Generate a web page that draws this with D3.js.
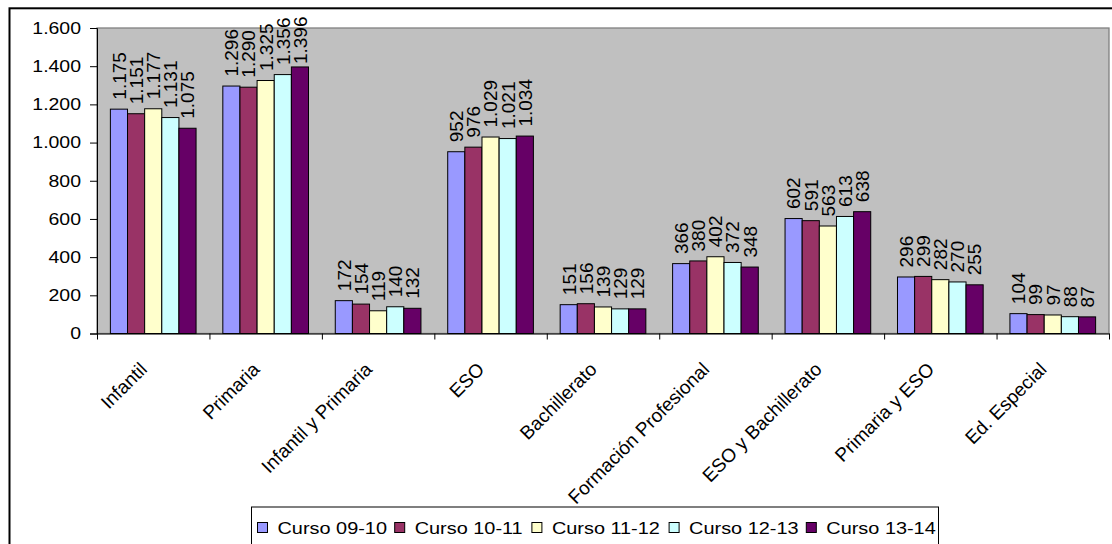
<!DOCTYPE html>
<html>
<head>
<meta charset="utf-8">
<script src="https://cdn.jsdelivr.net/npm/d3@7"></script>
<style>
  body { margin: 0; background: #fff; }
  text { font-family: "Liberation Sans", Arial, sans-serif; fill: #000; }
</style>
</head>
<body>
<script>
// data
const categories = ["Infantil", "Primaria", "Infantil y Primaria", "ESO", "Bachillerato",
  "Formación Profesional", "ESO y Bachillerato", "Primaria y ESO", "Ed. Especial"];
const seriesNames = ["Curso 09-10", "Curso 10-11", "Curso 11-12", "Curso 12-13", "Curso 13-14"];
const curso0910 = [1175, 1296, 172, 952, 151, 366, 602, 296, 104];
const curso1011 = [1151, 1290, 154, 976, 156, 380, 591, 299, 99];
const curso1112 = [1177, 1325, 119, 1029, 139, 402, 563, 282, 97];
const curso1213 = [1131, 1356, 140, 1021, 129, 372, 613, 270, 88];
const curso1314 = [1075, 1396, 132, 1034, 129, 348, 638, 255, 87];
const yTicks = [0, 200, 400, 600, 800, 1000, 1200, 1400, 1600];
const colors = ["#9999FF", "#993366", "#FFFFCC", "#CCFFFF", "#660066"];

const seriesValues = [curso0910, curso1011, curso1112, curso1213, curso1314];
const rows = categories.map((c, i) => ({
  cat: c,
  vals: seriesNames.map((s, j) => ({ s: s, v: seriesValues[j][i], c: colors[j] }))
}));

const fmt = d3.formatLocale({ decimal: ",", thousands: ".", grouping: [3], currency: ["", "€"] }).format(",d");

let margin = { top: 28, left: 97, right: 3, bottom: 210.5 };
let totalW = 1112, totalH = 544;
let width = totalW - margin.left - margin.right;
let height = totalH - margin.top - margin.bottom;

const root = d3.select("body").append("svg")
  .attr("width", totalW)
  .attr("height", totalH);

// outer chart border (runs off the right and bottom edges)
root.append("rect")
  .attr("x", 9.5).attr("y", 8.3)
  .attr("width", 1300).attr("height", 700)
  .attr("fill", "none").attr("stroke", "#000").attr("stroke-width", 2);

const svg = root.append("g").attr("transform", `translate(${margin.left}, ${margin.top})`);

// plot area
svg.append("rect")
  .attr("x", 0).attr("y", 0)
  .attr("width", width).attr("height", height)
  .attr("fill", "#C0C0C0").attr("stroke", "#808080").attr("stroke-width", 1.3);

const y = d3.scaleLinear().domain([0, 1600]).range([height, 0]);
const x0 = d3.scaleBand().domain(categories).range([0, width]).padding(0);
const bw = x0.bandwidth();
const x1 = d3.scaleBand().domain(seriesNames).range([bw * 0.119, bw * 0.881]).padding(0);

// bars
const groups = svg.selectAll(".cat").data(rows).enter().append("g")
  .attr("transform", d => `translate(${x0(d.cat)},0)`);

groups.selectAll("rect").data(d => d.vals).enter().append("rect")
  .attr("x", d => x1(d.s))
  .attr("y", d => y(d.v))
  .attr("width", x1.bandwidth())
  .attr("height", d => height - y(d.v))
  .attr("fill", d => d.c)
  .attr("stroke", "#000")
  .attr("stroke-width", 1);

// value labels, rotated; kept inside the chart at the top
groups.selectAll("text.val").data(d => d.vals).enter().append("text")
  .attr("class", "val")
  .style("font-size", "19px")
  .attr("text-anchor", "start")
  .attr("dy", "0.36em")
  .text(d => fmt(d.v))
  .each(function(d) {
    const len = this.getComputedTextLength();
    let start = y(d.v) - 9.5;
    const minTop = 16.5 - margin.top;
    if (start - len < minTop) start = minTop + len;
    const cx = x1(d.s) + x1.bandwidth() / 2;
    d3.select(this).attr("transform", `translate(${cx},${start}) rotate(-90)`);
  });

// y axis
const yAxis = svg.append("g")
  .call(d3.axisLeft(y).tickValues(yTicks).tickFormat(fmt).tickSize(7).tickPadding(0));
yAxis.select(".domain").attr("stroke", "#000");
yAxis.selectAll(".tick line").attr("stroke", "#000");
yAxis.selectAll(".tick text")
  .style("font-size", "16.5px")
  .attr("font-family", null)
  .attr("x", -16 / 1.18)
  .attr("transform", "scale(1.18,1)");

// x axis: line and boundary ticks
const xb = d3.scaleLinear().domain([0, categories.length]).range([0, width]);
const xAxis = svg.append("g")
  .attr("transform", `translate(0, ${height})`)
  .call(d3.axisBottom(xb).ticks(categories.length).tickFormat("").tickSize(6).tickSizeOuter(0));
xAxis.select(".domain").attr("stroke", "#000");
xAxis.selectAll(".tick line").attr("stroke", "#000");

// category labels
const xLab = svg.append("g")
  .attr("transform", `translate(0, ${height})`)
  .call(d3.axisBottom(x0).tickSize(0).tickPadding(0));
xLab.select(".domain").remove();
xLab.selectAll(".tick text")
  .style("font-size", "19px")
  .attr("font-family", null)
  .attr("text-anchor", "end")
  .attr("y", 0).attr("dy", 0)
  .attr("transform", "translate(-5, 37) rotate(-45)");

// legend
const legend = root.append("g").attr("transform", "translate(251.5, 507)");
legend.append("rect")
  .attr("x", 0).attr("y", 0)
  .attr("width", 687).attr("height", 60)
  .attr("fill", "#fff").attr("stroke", "#000").attr("stroke-width", 1);

const items = legend.selectAll(".item").data(seriesNames).enter().append("g")
  .attr("transform", (d, i) => `translate(${6 + i * 137.2}, 0)`);
items.append("rect")
  .attr("x", 0).attr("y", 15.5)
  .attr("width", 10).attr("height", 10)
  .attr("fill", (d, i) => colors[i])
  .attr("stroke", "#000").attr("stroke-width", 1);
items.append("text")
  .style("font-size", "17px")
  .attr("transform", "translate(20, 27) scale(1.17,1)")
  .text(d => d);
</script>
</body>
</html>
